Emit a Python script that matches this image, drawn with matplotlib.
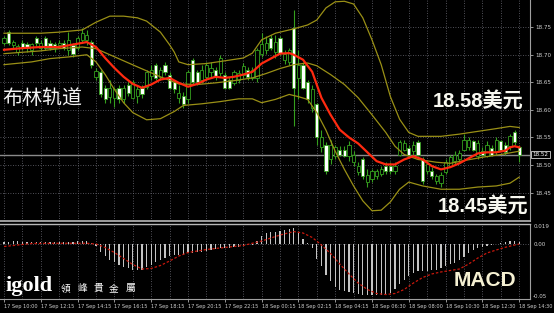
import matplotlib
matplotlib.use("Agg")
import matplotlib.pyplot as plt

W, H = 554, 313

# ------------------------------------------------------------------ #
#  15-minute silver bars, 17 Sep 10:00 -> 18 Sep 14:30
# ------------------------------------------------------------------ #
opens = [18.721, 18.741, 18.718, 18.705, 18.721, 18.720, 18.709, 18.730, 18.712, 18.730,
         18.721, 18.720, 18.718, 18.721, 18.709, 18.718, 18.712, 18.727, 18.727, 18.723,
         18.660, 18.669, 18.640, 18.624, 18.622, 18.640, 18.619, 18.646, 18.622, 18.626,
         18.640, 18.642, 18.662, 18.682, 18.660, 18.682, 18.664, 18.651, 18.622, 18.626,
         18.619, 18.691, 18.669, 18.655, 18.660, 18.669, 18.673, 18.667, 18.664, 18.655,
         18.649, 18.655, 18.664, 18.673, 18.658, 18.658, 18.702, 18.709, 18.730, 18.705,
         18.730, 18.691, 18.687, 18.748, 18.658, 18.682, 18.651, 18.604, 18.610, 18.532,
         18.537, 18.510, 18.516, 18.528, 18.528, 18.516, 18.505, 18.487, 18.510, 18.469,
         18.474, 18.480, 18.483, 18.499, 18.499, 18.489, 18.519, 18.528, 18.530, 18.525,
         18.541, 18.510, 18.489, 18.490, 18.471, 18.467, 18.487, 18.499, 18.507, 18.510,
         18.528, 18.532, 18.543, 18.516, 18.526, 18.517, 18.530, 18.523, 18.543, 18.536,
         18.534, 18.559, 18.532]
highs = [18.734, 18.745, 18.727, 18.720, 18.727, 18.723, 18.721, 18.734, 18.727, 18.734,
         18.727, 18.723, 18.727, 18.727, 18.741, 18.721, 18.734, 18.748, 18.745, 18.727,
         18.676, 18.673, 18.646, 18.655, 18.642, 18.646, 18.646, 18.651, 18.655, 18.646,
         18.646, 18.673, 18.682, 18.685, 18.678, 18.687, 18.669, 18.655, 18.646, 18.633,
         18.673, 18.694, 18.673, 18.682, 18.687, 18.687, 18.678, 18.700, 18.669, 18.660,
         18.673, 18.673, 18.685, 18.678, 18.678, 18.712, 18.739, 18.734, 18.736, 18.736,
         18.734, 18.709, 18.712, 18.781, 18.709, 18.687, 18.655, 18.646, 18.613, 18.564,
         18.541, 18.546, 18.537, 18.534, 18.534, 18.543, 18.525, 18.505, 18.514, 18.492,
         18.492, 18.492, 18.498, 18.505, 18.505, 18.505, 18.546, 18.545, 18.536, 18.543,
         18.545, 18.514, 18.507, 18.496, 18.483, 18.487, 18.510, 18.519, 18.525, 18.528,
         18.557, 18.550, 18.546, 18.545, 18.532, 18.543, 18.536, 18.550, 18.546, 18.541,
         18.557, 18.564, 18.536]
lows = [18.718, 18.718, 18.712, 18.700, 18.709, 18.705, 18.700, 18.716, 18.709, 18.709,
        18.709, 18.705, 18.712, 18.709, 18.700, 18.696, 18.709, 18.721, 18.718, 18.676,
        18.655, 18.624, 18.613, 18.613, 18.606, 18.613, 18.613, 18.626, 18.619, 18.613,
        18.622, 18.637, 18.655, 18.655, 18.655, 18.664, 18.637, 18.631, 18.613, 18.604,
        18.613, 18.646, 18.646, 18.649, 18.655, 18.660, 18.655, 18.662, 18.637, 18.637,
        18.646, 18.649, 18.658, 18.655, 18.655, 18.651, 18.696, 18.702, 18.709, 18.694,
        18.700, 18.684, 18.682, 18.570, 18.619, 18.637, 18.613, 18.597, 18.537, 18.523,
        18.483, 18.501, 18.510, 18.516, 18.514, 18.507, 18.499, 18.481, 18.474, 18.460,
        18.469, 18.474, 18.480, 18.483, 18.483, 18.483, 18.516, 18.525, 18.516, 18.519,
        18.516, 18.465, 18.483, 18.474, 18.465, 18.460, 18.483, 18.496, 18.501, 18.507,
        18.525, 18.528, 18.525, 18.510, 18.516, 18.514, 18.516, 18.519, 18.525, 18.519,
        18.528, 18.537, 18.505]
closes = [18.730, 18.721, 18.723, 18.716, 18.712, 18.712, 18.720, 18.721, 18.721, 18.712,
          18.712, 18.712, 18.721, 18.712, 18.727, 18.702, 18.730, 18.739, 18.736, 18.682,
          18.671, 18.628, 18.619, 18.640, 18.637, 18.619, 18.640, 18.631, 18.651, 18.637,
          18.628, 18.669, 18.673, 18.658, 18.673, 18.669, 18.640, 18.637, 18.631, 18.610,
          18.669, 18.651, 18.651, 18.673, 18.682, 18.676, 18.660, 18.694, 18.640, 18.640,
          18.669, 18.667, 18.680, 18.660, 18.673, 18.709, 18.720, 18.721, 18.712, 18.723,
          18.703, 18.702, 18.709, 18.640, 18.682, 18.640, 18.619, 18.637, 18.550, 18.550,
          18.489, 18.537, 18.532, 18.519, 18.517, 18.537, 18.519, 18.499, 18.480, 18.481,
          18.489, 18.489, 18.492, 18.489, 18.489, 18.499, 18.541, 18.539, 18.519, 18.537,
          18.519, 18.471, 18.501, 18.480, 18.480, 18.481, 18.505, 18.514, 18.519, 18.521,
          18.546, 18.545, 18.528, 18.539, 18.519, 18.537, 18.519, 18.545, 18.528, 18.523,
          18.552, 18.541, 18.519]

upper_idx = [0, 4, 8, 12, 17, 20, 23, 26, 29, 31, 34, 36, 37, 38, 40, 44, 48, 52, 54, 56,
             59, 63, 66, 68, 70, 72, 74, 76, 78, 80, 82, 84, 86, 88, 90, 95, 99, 103, 107,
             110, 112]
upper_val = [18.739, 18.739, 18.739, 18.741, 18.745, 18.759, 18.770, 18.770, 18.767, 18.761,
             18.741, 18.718, 18.705, 18.687, 18.682, 18.684, 18.689, 18.694, 18.703, 18.727,
             18.739, 18.747, 18.754, 18.763, 18.785, 18.796, 18.797, 18.792, 18.767, 18.727,
             18.682, 18.624, 18.583, 18.559, 18.552, 18.552, 18.556, 18.561, 18.566,
             18.570, 18.568]
mid_idx = [0, 8, 12, 17, 20, 23, 26, 29, 34, 38, 42, 46, 50, 54, 57, 60, 63, 66, 68, 71,
           74, 77, 80, 83, 85, 87, 90, 94, 97, 100, 104, 108, 112]
mid_val = [18.702, 18.707, 18.711, 18.714, 18.711, 18.700, 18.689, 18.678, 18.660, 18.647,
           18.646, 18.649, 18.653, 18.658, 18.666, 18.675, 18.682, 18.685, 18.680, 18.664,
           18.646, 18.622, 18.591, 18.559, 18.534, 18.519, 18.510, 18.505, 18.503, 18.508,
           18.514, 18.519, 18.525]
lower_idx = [0, 6, 10, 14, 18, 20, 22, 24, 26, 28, 31, 34, 37, 39, 43, 47, 51, 54, 56, 59,
             62, 64, 66, 68, 70, 72, 74, 76, 78, 80, 82, 84, 86, 88, 91, 95, 99, 103, 107,
             110, 112]
lower_val = [18.682, 18.687, 18.693, 18.696, 18.700, 18.687, 18.664, 18.637, 18.613, 18.595,
             18.582, 18.584, 18.597, 18.608, 18.611, 18.615, 18.620, 18.620, 18.613, 18.619,
             18.628, 18.624, 18.619, 18.595, 18.563, 18.525, 18.492, 18.462, 18.435, 18.417,
             18.418, 18.433, 18.456, 18.469, 18.462, 18.456, 18.456, 18.460, 18.462,
             18.467, 18.478]
ma_idx = [0, 4, 8, 12, 16, 18, 20, 22, 24, 26, 28, 30, 32, 34, 36, 38, 40, 42, 44, 46, 48,
          50, 52, 54, 56, 58, 60, 62, 63, 65, 67, 69, 71, 73, 75, 77, 79, 81, 83, 85, 87,
          89, 91, 93, 95, 97, 99, 101, 103, 105, 107, 109, 110, 111, 112]
ma_val = [18.709, 18.712, 18.714, 18.714, 18.720, 18.723, 18.714, 18.694, 18.676, 18.660,
          18.647, 18.640, 18.646, 18.655, 18.658, 18.649, 18.642, 18.647, 18.655, 18.660,
          18.658, 18.660, 18.664, 18.669, 18.684, 18.693, 18.702, 18.703, 18.700, 18.691,
          18.669, 18.622, 18.591, 18.564, 18.550, 18.539, 18.523, 18.507, 18.501, 18.501,
          18.510, 18.516, 18.510, 18.498, 18.492, 18.496, 18.503, 18.512, 18.521, 18.523,
          18.523, 18.526, 18.532, 18.534, 18.532]

# MACD main (histogram, one per bar) and signal line
macd_main = [0.0020, 0.0022, 0.0024, 0.0024, 0.0023, 0.0022, 0.0022, 0.0023, 0.0023, 0.0022,
             0.0020, 0.0020, 0.0019, 0.0018, 0.0020, 0.0020, 0.0024, 0.0030, 0.0033, 0.0010,
             -0.0020, -0.0080, -0.0115, -0.0150, -0.0175, -0.0195, -0.0215, -0.0230, -0.0245, -0.0250,
             -0.0245, -0.0220, -0.0195, -0.0175, -0.0150, -0.0130, -0.0115, -0.0105, -0.0105, -0.0105,
             -0.0090, -0.0085, -0.0080, -0.0073, -0.0068, -0.0060, -0.0050, -0.0040, -0.0042, -0.0035,
             -0.0030, -0.0026, -0.0018, -0.0014, -0.0010, 0.0030, 0.0080, 0.0104, 0.0110, 0.0117,
             0.0120, 0.0133, 0.0145, 0.0149, 0.0100, 0.0050, 0.0005, -0.0035, -0.0140, -0.0210,
             -0.0290, -0.0355, -0.0405, -0.0435, -0.0450, -0.0455, -0.0465, -0.0470, -0.0480, -0.0483,
             -0.0483, -0.0483, -0.0480, -0.0475, -0.0465, -0.0425, -0.0380, -0.0340, -0.0305, -0.0275,
             -0.0260, -0.0260, -0.0255, -0.0245, -0.0245, -0.0225, -0.0210, -0.0185, -0.0183, -0.0155,
             -0.0120, -0.0085, -0.0060, -0.0040, -0.0030, -0.0020, -0.0010, 0.0000, 0.0008, 0.0015,
             0.0028, 0.0032, 0.0022]
signal_idx = [0, 6, 12, 18, 20, 22, 24, 26, 28, 30, 32, 34, 36, 38, 40, 44, 48, 52, 56, 60,
              63, 65, 67, 69, 71, 73, 75, 77, 79, 81, 83, 85, 87, 89, 91, 93, 95, 99, 101,
              103, 105, 107, 109, 112]
signal_val = [-0.0024, 0.0005, 0.0007, 0.0007, 0.0000, -0.0033, -0.0081, -0.0137, -0.0194,
              -0.0237, -0.0232, -0.0204, -0.0161, -0.0114, -0.0081, -0.0052, -0.0033, -0.0014,
              0.0028, 0.0085, 0.0118, 0.0104, 0.0062, -0.0009, -0.0090, -0.0190, -0.0284,
              -0.0370, -0.0431, -0.0469, -0.0479, -0.0469, -0.0431, -0.0370, -0.0318, -0.0284,
              -0.0265, -0.0237, -0.0190, -0.0133, -0.0085, -0.0057, -0.0031, 0.0000]

price_ticks = [18.45, 18.50, 18.55, 18.60, 18.65, 18.70, 18.75]
time_labels = ["17 Sep 10:00", "17 Sep 12:15", "17 Sep 14:15", "17 Sep 16:15",
               "17 Sep 18:15", "17 Sep 20:15", "17 Sep 22:15", "18 Sep 00:15",
               "18 Sep 02:15", "18 Sep 04:15", "18 Sep 06:30", "18 Sep 08:00",
               "18 Sep 10:30", "18 Sep 12:30", "18 Sep 14:30"]

# ------------------------------------------------------------------ #
#  Style
# ------------------------------------------------------------------ #
GREEN = "#35a01e"
OLIVE = "#9a9016"
RED = "#ff2a10"
GRID = "#6c6c76"
AXTXT = "#cfcfcf"
XLIM = (-0.87, 114.35)

fig = plt.figure(figsize=(W / 100, H / 100), dpi=100, facecolor="black")
ax = fig.add_axes([0, 92 / H, 530 / W, 221 / H])
ax_m = fig.add_axes([0, 14 / H, 530 / W, 75 / H], sharex=ax)

for a in (ax, ax_m):
    a.set_facecolor("black")
    for s in a.spines.values():
        s.set_visible(False)
    a.spines["right"].set_visible(True)
    a.spines["right"].set_color("#a0a0a0")
    a.spines["right"].set_linewidth(0.8)
    a.set_xticks(range(0, 113, 8))
    a.set_xticks(range(4, 113, 8), minor=True)
    a.grid(True, which="both", axis="x", color=GRID, linestyle=(0, (1, 2)), linewidth=0.6)
    a.set_axisbelow(True)
ax.spines["bottom"].set_visible(True)
ax.spines["bottom"].set_color("#b8b8b8")
ax.spines["bottom"].set_linewidth(1.2)
ax_m.spines["top"].set_visible(True)
ax_m.spines["top"].set_color("#b8b8b8")
ax_m.spines["top"].set_linewidth(1.0)
ax_m.spines["bottom"].set_visible(True)
ax_m.spines["bottom"].set_color("#a0a0a0")
ax_m.spines["bottom"].set_linewidth(0.8)

ax.set_xlim(*XLIM)
ax.set_ylim(18.3984, 18.7993)
ax_m.set_ylim(-0.05213, 0.01896)

# ------------------------------------------------------------------ #
#  Price panel
# ------------------------------------------------------------------ #
ax.grid(True, axis="y", color=GRID, linestyle=(0, (1, 2)), linewidth=0.6)
ax.set_yticks(price_ticks)
ax.set_yticklabels([f"{v:.2f}" for v in price_ticks])
ax.yaxis.tick_right()
ax.tick_params(axis="y", colors=AXTXT, labelsize=4.1, length=2, width=0.5, pad=1.5)
ax.tick_params(axis="x", which="both", length=0, labelbottom=False)

bars = list(range(len(closes)))
ax.axhline(closes[-1], color="#8a8a8a", linewidth=1.0, zorder=1)

ax.vlines(bars, lows, highs, color=GREEN, linewidth=0.8, zorder=2)
bottoms = [min(o, c) for o, c in zip(opens, closes)]
heights = [max(abs(c - o), 0.0008) for o, c in zip(opens, closes)]
fills = ["black" if c > o else "white" for o, c in zip(opens, closes)]
ax.bar(bars, heights, bottom=bottoms, width=0.66, color=fills,
       edgecolor=GREEN, linewidth=0.6, zorder=3)

ax.plot(upper_idx, upper_val, color=OLIVE, linewidth=0.9, zorder=4)
ax.plot(mid_idx, mid_val, color=OLIVE, linewidth=0.9, zorder=4)
ax.plot(lower_idx, lower_val, color=OLIVE, linewidth=0.9, zorder=4)
ax.plot(ma_idx, ma_val, color=RED, linewidth=1.6, zorder=5)

ax.text(1.004, closes[-1], f"{closes[-1]:.2f}", transform=ax.get_yaxis_transform(),
        fontsize=4.1, color="white", va="center", ha="left", clip_on=False,
        bbox=dict(boxstyle="square,pad=0.25", facecolor="black", edgecolor="#d8d8d8",
                  linewidth=0.6))

# ------------------------------------------------------------------ #
#  MACD panel
# ------------------------------------------------------------------ #
ax_m.bar(bars, macd_main, width=0.24, color="#c4c4c4", zorder=3)
ax_m.plot(signal_idx, signal_val, color="#c8180c", linewidth=0.9,
          linestyle=(0, (2, 1.5)), zorder=4)
ax_m.axhline(0, color=GRID, linestyle=(0, (1, 2)), linewidth=0.6, zorder=1)
ax_m.set_yticks([])
ax_m.set_xticklabels(time_labels, ha="left")
ax_m.tick_params(axis="x", which="major", colors=AXTXT, labelsize=3.6, length=2,
                 width=0.5, pad=1.5, direction="out")
ax_m.tick_params(axis="x", which="minor", length=0)
ytr = ax_m.get_yaxis_transform()
ax_m.text(1.006, 0.01896, "0.019", transform=ytr, fontsize=4.1, color=AXTXT,
          va="top", ha="left", clip_on=False)
ax_m.text(1.006, 0.0, "0.00", transform=ytr, fontsize=4.1, color=AXTXT,
          va="center", ha="left", clip_on=False)
ax_m.text(1.006, -0.05, "-0.05", transform=ytr, fontsize=4.1, color=AXTXT,
          va="center", ha="left", clip_on=False)

# ------------------------------------------------------------------ #
#  Annotations
# ------------------------------------------------------------------ #
fig.text(2 / W, 1 - 99 / H, "布林轨道", family="Noto Sans CJK SC", fontsize=14.4,
         color="#f2f2f2", va="center", ha="left")
fig.text(433 / W, 1 - 101 / H, "18.58美元", family=["Liberation Sans", "Noto Sans CJK SC"],
         fontsize=14.5, weight="bold", color="#f8f8f0", va="center", ha="left")
fig.text(438 / W, 1 - 206 / H, "18.45美元", family=["Liberation Sans", "Noto Sans CJK SC"],
         fontsize=14.5, weight="bold", color="#f8f8f0", va="center", ha="left")
fig.text(454 / W, 1 - 281 / H, "MACD", family="Liberation Sans", fontsize=15,
         weight="bold", color="#f5f0d2", va="center", ha="left")
fig.text(6 / W, 1 - 286 / H, "igold", family="Liberation Serif", fontsize=16,
         weight="bold", color="white", va="center", ha="left")
for k, ch in enumerate("領峰貴金屬"):
    fig.text((66 + 16 * k) / W, 1 - 288 / H, ch, family="Noto Sans CJK TC", fontsize=7,
             color="white", va="center", ha="center")

fig.savefig("out.png", dpi=100, facecolor="black")
